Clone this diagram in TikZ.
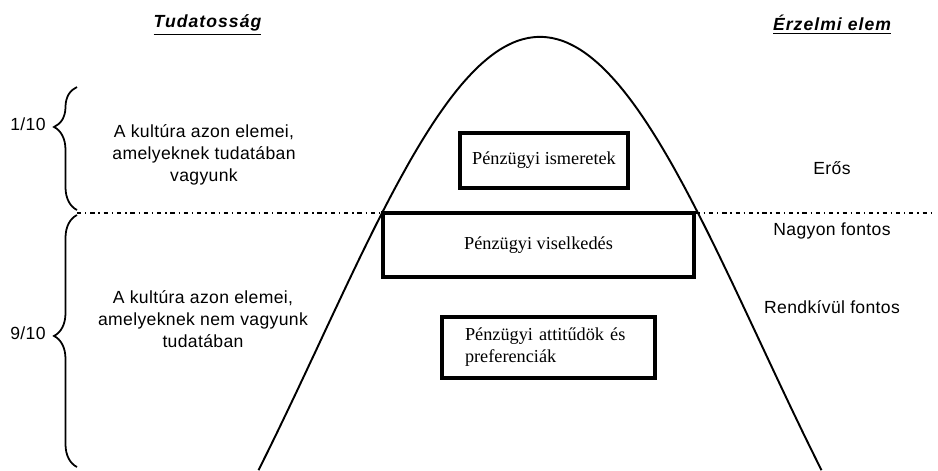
\documentclass[tikz,border=0pt]{standalone}
\usepackage{fontspec}
\setmainfont{Liberation Serif}
\newfontfamily\sidefont[LetterSpace=2]{Liberation Sans}
\newfontfamily\headfont[LetterSpace=6]{Liberation Sans}
\usetikzlibrary{positioning,calc,decorations.pathreplacing}

\begin{document}
\begin{tikzpicture}[
    font=\fontsize{10.4}{12.5}\selectfont,
    finbox/.style={draw, rectangle, line width=1.8pt, align=center},
    sidetext/.style={font=\sidefont\fontsize{10}{12.5}\selectfont, align=center},
    headtext/.style={font=\headfont\fontsize{10}{12}\selectfont\bfseries\itshape},
    splitline/.style={line width=0.8pt, dash pattern=on 2.4pt off 2.2pt on 0.8pt off 2.2pt},
    curly/.style={decorate, decoration={brace, amplitude=0.46cm, aspect=#1}, line width=1pt},
    bell/.style={line width=1.1pt}
]
\useasboundingbox (0,0) rectangle (18.76,-9.4);

% 标题
\node[headtext] (aware_head) at (4.15,-0.50) {\underline{Tudatosság}};
\node[headtext] (emo_head)   at (16.64,-0.50) {\underline{Érzelmi elem}};

% 钟形曲线
\draw[bell] plot[domain=-5.63:5.63, samples=120, smooth]
    ({10.8+\x}, {-0.74-15.5*(1-exp(-\x*\x/38.72))});

% 三个框
\node[finbox, minimum width=3.36cm, minimum height=1.10cm] (know)  at (10.88,-3.21) {Pénzügyi ismeretek};
\node[finbox, minimum width=6.22cm, minimum height=1.28cm] (behav) at (10.77,-4.90) {Pénzügyi viselkedés};
\node[finbox, minimum height=1.22cm, align=left, text width=3.34cm, inner xsep=0.46cm] (attit) at (10.97,-6.95)
    {Pénzügyi attitűdök és\\preferenciák};

% 分隔线（框的上边缘两侧）
\coordinate (split_left)  at (1.54,-4.26);
\coordinate (split_right) at (18.7,-4.26);
\draw[splitline] (split_left) -- (split_left -| behav.west);
\draw[splitline] (split_right -| behav.east) -- (split_right);

% 左侧括号
\coordinate (brace_top)  at (1.54,-1.74);
\coordinate (brace_mid)  at (1.54,-4.20);
\coordinate (brace_mid2) at (1.54,-4.30);
\coordinate (brace_bot)  at (1.54,-9.34);
\draw[curly=0.675] (brace_mid) -- (brace_top);
\draw[curly=0.52] (brace_bot) -- (brace_mid2);

\node[sidetext] (frac_top) at (0.56,-2.48) {1/10};
\node[sidetext] (frac_bot) at (0.56,-6.66) {9/10};

% 左侧说明
\node[sidetext] (aware)   at (4.08,-3.10) {A kultúra azon elemei,\\amelyeknek tudatában\\vagyunk};
\node[sidetext] (unaware) at (4.06,-6.38) {A kultúra azon elemei,\\amelyeknek nem vagyunk\\tudatában};

% 右侧
\node[sidetext] (strong)  at (16.64,-3.36) {Erős};
\node[sidetext] (veryimp) at (16.64,-4.62) {Nagyon fontos};
\node[sidetext] (extreme) at (16.64,-6.14) {Rendkívül fontos};

\end{tikzpicture}
\end{document}
